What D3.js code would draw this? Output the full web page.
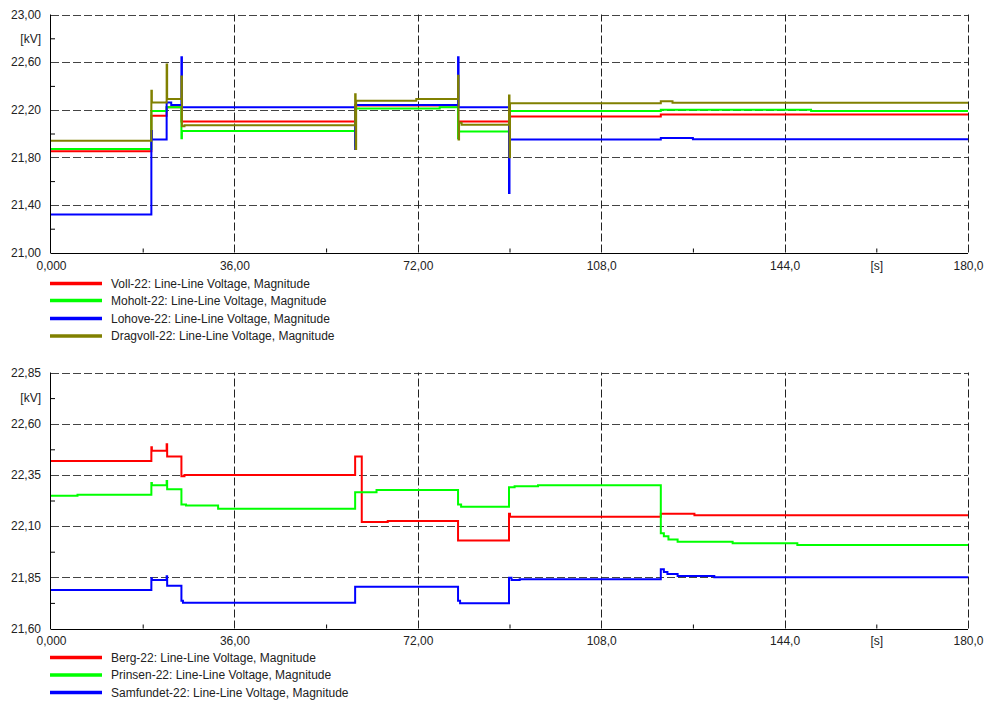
<!DOCTYPE html>
<html>
<head>
<meta charset="utf-8">
<script src="https://cdn.jsdelivr.net/npm/d3@7"></script>
<style>
body { margin:0; background:#fff; }
text { font-family: Arial, "Liberation Sans", sans-serif; font-size:12px; fill:#222; }
</style>
</head>
<body>
<svg id="chart" width="985" height="702"></svg>
<script>
// time axis, shared by both plots
var xLabelValues = [0, 36, 72, 108, 144, 162, 180];
var xTickLabels = ["0,000", "36,00", "72,00", "108,0", "144,0", "[s]", "180,0"];
var xGrid = [36, 72, 108, 144, 180];
var xMinor = [18, 54, 90, 126, 162];

// upper plot
var topYTicks = [21.0, 21.4, 21.8, 22.2, 22.6, 23.0, 22.8];
var topYLabels = ["21,00", "21,40", "21,80", "22,20", "22,60", "23,00", "[kV]"];
var topYMinor = [21.2, 21.6, 22.0, 22.4, 22.8];
var topNames = ["Voll-22: Line-Line Voltage, Magnitude", "Moholt-22: Line-Line Voltage, Magnitude",
	"Lohove-22: Line-Line Voltage, Magnitude", "Dragvoll-22: Line-Line Voltage, Magnitude"];
var topColors = ["#ff0000", "#00ff00", "#0000ff", "#808000"];

// [time s, kV] - value holds until the next point
var voll = [[0,21.85],[19.7,22.15],[22.7,22.22],[25.6,22.10],[59.7,22.235],[79.9,22.10],[89.9,22.143],[119.7,22.16],[180,22.16]];
var moholt = [[0,21.87],[19.7,22.19],[22.7,22.22],[25.6,21.96],[25.7,22.02],[59.7,21.90],[59.8,22.21],[76.3,22.22],[79.9,21.96],[80.0,22.017],[89.9,22.19],[119.7,22.2],[149.2,22.19],[180,22.19]];
var lohove = [[0,21.32],[19.7,22.02],[19.8,21.95],[22.7,22.26],[23.6,22.24],[25.6,22.64],[25.7,22.22],[59.7,21.87],[59.8,22.24],[79.9,22.64],[80.0,22.22],[89.9,21.50],[90.0,21.95],[119.7,21.962],[126,21.952],[180,21.952]];
var dragvoll = [[0,21.94],[19.7,22.36],[19.8,22.26],[22.7,22.58],[22.8,22.29],[25.6,22.48],[25.7,22.06],[26.2,22.07],[59.7,22.33],[59.8,21.87],[59.9,22.275],[71.7,22.29],[79.9,22.485],[80.0,21.95],[80.1,22.09],[80.6,22.073],[89.9,22.32],[90.0,21.80],[90.1,22.255],[119.7,22.27],[122,22.258],[180,22.258]];

// lower plot
var botYTicks = [21.60, 21.85, 22.10, 22.35, 22.60, 22.85, 22.725];
var botYLabels = ["21,60", "21,85", "22,10", "22,35", "22,60", "22,85", "[kV]"];
var botYMinor = [21.725, 21.975, 22.225, 22.475, 22.725];
var botNames = ["Berg-22: Line-Line Voltage, Magnitude", "Prinsen-22: Line-Line Voltage, Magnitude",
	"Samfundet-22: Line-Line Voltage, Magnitude"];
var botColors = ["#ff0000", "#00ff00", "#0000ff"];

var berg = [[0,22.418],[19.7,22.485],[19.8,22.468],[22.7,22.50],[22.8,22.44],[25.6,22.343],[26.2,22.35],[59.7,22.44],[61.0,22.12],[66.1,22.125],[79.9,22.03],[89.9,22.16],[90.1,22.146],[119.7,22.16],[126.3,22.153],[180,22.153]];
var prinsen = [[0,22.248],[5.2,22.253],[19.7,22.31],[19.8,22.30],[22.7,22.32],[22.8,22.28],[25.6,22.205],[26.5,22.20],[32.8,22.185],[59.7,22.265],[63.9,22.276],[79.9,22.205],[80.5,22.195],[89.9,22.29],[91,22.295],[95.6,22.30],[119.7,22.065],[120.3,22.05],[121.2,22.035],[123,22.024],[133.8,22.016],[146.5,22.008],[180,22.008]];
var samfundet = [[0,21.788],[19.7,21.845],[19.8,21.837],[22.7,21.855],[22.8,21.809],[25.6,21.735],[25.9,21.726],[59.7,21.804],[79.9,21.735],[80.3,21.723],[89.9,21.848],[90.4,21.837],[92,21.84],[119.7,21.889],[120.3,21.876],[121,21.866],[123,21.856],[130.2,21.85],[180,21.85]];

var svg = d3.select("#chart");
var x = d3.scaleLinear().domain([0, 180]).range([51, 968]);

function renderPlot(id, y, yTicks, yLabels, yMinor, data, colors, names, legendY, xPad)
{
	var y0 = y.range()[0], y1 = y.range()[1];
	var g = svg.append("g").attr("class", "plot-" + id);

	g.append("clipPath").attr("id", "clip-" + id)
		.append("rect").attr("x", x(0)).attr("y", y1 - 30).attr("width", x(180) - x(0)).attr("height", y0 - y1 + 30);

	// dashed grid, top and right border included
	g.selectAll("line.hgrid")
		.data(yTicks.slice(1, 6)).enter()
		.append("line")
		.attr("class", "hgrid")
		.attr("x1", x(0)).attr("x2", x(180))
		.attr("y1", function(d){ return Math.round(y(d)) + 0.5; })
		.attr("y2", function(d){ return Math.round(y(d)) + 0.5; })
		.attr("stroke", "#444").attr("stroke-dasharray", "8,3");
	g.selectAll("line.vgrid")
		.data(xGrid).enter()
		.append("line")
		.attr("class", "vgrid")
		.attr("x1", function(d){ return Math.round(x(d)) + 0.5; })
		.attr("x2", function(d){ return Math.round(x(d)) + 0.5; })
		.attr("y1", y0).attr("y2", y1)
		.attr("stroke", "#222").attr("stroke-dasharray", "8,3");

	// minor ticks pointing into the plot
	g.append("g")
		.attr("transform", "translate(0," + y0 + ")")
		.call(d3.axisBottom(x).tickValues(xMinor).tickSize(-4).tickFormat(""))
		.call(function(a){ a.select(".domain").remove(); });
	g.append("g")
		.attr("transform", "translate(" + x(0) + ",0)")
		.call(d3.axisLeft(y).tickValues(yMinor).tickSize(-4).tickFormat(""))
		.call(function(a){ a.select(".domain").remove(); });

	// labels
	var xa = g.append("g")
		.attr("transform", "translate(0," + y0 + ")")
		.call(d3.axisBottom(x).tickValues(xLabelValues).tickSize(0).tickPadding(xPad)
			.tickFormat(function(d, i){ return xTickLabels[i]; }));
	xa.select(".domain").remove();
	var ya = g.append("g")
		.attr("transform", "translate(" + x(0) + ",0)")
		.call(d3.axisLeft(y).tickValues(yTicks).tickSize(0).tickPadding(10)
			.tickFormat(function(d, i){ return yLabels[i]; }));
	ya.select(".domain").remove();
	g.selectAll(".tick text").attr("fill", "#222").style("font-size", "12px")
		.style("font-family", "Arial, 'Liberation Sans', sans-serif");

	// solid axes
	g.append("line").attr("x1", x(0) - 0.5).attr("x2", x(0) - 0.5).attr("y1", y1).attr("y2", y0 + 0.5)
		.attr("stroke", "#000");
	g.append("line").attr("x1", x(0) - 0.5).attr("x2", x(180)).attr("y1", Math.round(y0) + 0.5).attr("y2", Math.round(y0) + 0.5)
		.attr("stroke", "#000");

	var line = d3.line()
		.x(function(d){ return x(d[0]); })
		.y(function(d){ return y(d[1]); })
		.curve(d3.curveStepAfter);

	g.append("g").attr("clip-path", "url(#clip-" + id + ")")
		.selectAll("path")
		.data(data).enter()
		.append("path")
		.attr("d", line)
		.attr("fill", "none")
		.attr("stroke", function(d, i){ return colors[i]; })
		.attr("stroke-width", 2);

	var leg = g.selectAll("g.legend")
		.data(names).enter()
		.append("g")
		.attr("class", "legend")
		.attr("transform", function(d, i){ return "translate(0," + legendY[i] + ")"; });
	leg.append("line")
		.attr("x1", 50).attr("x2", 102)
		.attr("stroke", function(d, i){ return colors[i]; })
		.attr("stroke-width", 3.5);
	leg.append("text")
		.attr("x", 111).attr("dy", "0.35em")
		.text(function(d){ return d; });
}

var yTop = d3.scaleLinear().domain([21, 23]).range([252.5, 14.5]);
var yBot = d3.scaleLinear().domain([21.6, 22.85]).range([628.5, 372.5]);

renderPlot("top", yTop, topYTicks, topYLabels, topYMinor, [voll, moholt, lohove, dragvoll],
	topColors, topNames, [283.5, 300.5, 318.5, 336], 9);
renderPlot("bot", yBot, botYTicks, botYLabels, botYMinor, [berg, prinsen, samfundet],
	botColors, botNames, [657.5, 675, 692.5], 7.5);
</script>
</body>
</html>
